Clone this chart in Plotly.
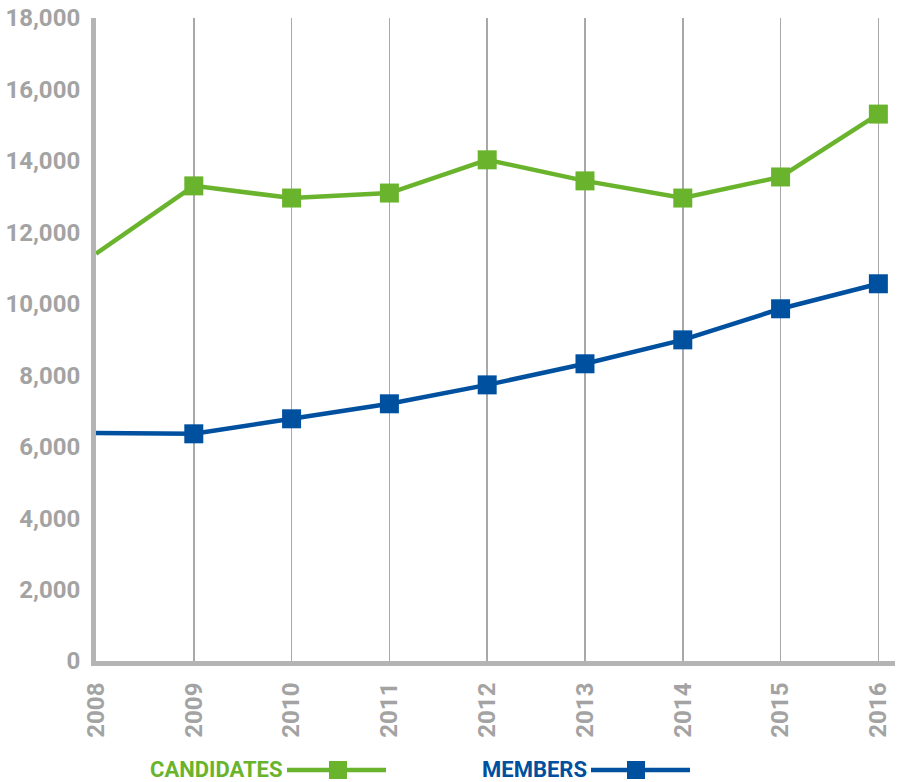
import plotly.graph_objects as go

years = [2008, 2009, 2010, 2011, 2012, 2013, 2014, 2015, 2016]
candidates = [11400, 13300, 12960, 13100, 14030, 13440, 12960, 13550, 15310]
members = [6380, 6360, 6780, 7200, 7730, 8320, 8990, 9860, 10560]
y_ticks = [0, 2000, 4000, 6000, 8000, 10000, 12000, 14000, 16000, 18000]
y_tick_labels = ["0", "2,000", "4,000", "6,000", "8,000", "10,000", "12,000", "14,000", "16,000", "18,000"]

GREEN = "#6ab42d"
BLUE = "#0050a0"
GRAY = "#a3a3a3"

msize = [0] + [19] * (len(years) - 1)

fig = go.Figure()
fig.add_trace(go.Scatter(x=years, y=candidates, mode="lines+markers", name="CANDIDATES",
                         line=dict(color=GREEN, width=4.5),
                         marker=dict(symbol="square", size=msize, color=GREEN, opacity=1,
                                     line=dict(width=0)),
                         cliponaxis=True, showlegend=False))
fig.add_trace(go.Scatter(x=years, y=members, mode="lines+markers", name="MEMBERS",
                         line=dict(color=BLUE, width=4.5),
                         marker=dict(symbol="square", size=msize, color=BLUE, opacity=1,
                                     line=dict(width=0)),
                         cliponaxis=True, showlegend=False))

tickfont = dict(family="Roboto, DejaVu Sans, sans-serif", size=24, color=GRAY, weight="bold")

fig.update_xaxes(range=[2008, 2016.17], tickvals=years, ticktext=[str(y) for y in years],
                 tickangle=-90, tickfont=tickfont, showgrid=True, gridcolor="#a8a8a8", gridwidth=1.5,
                 showline=True, linecolor="#b4b4b4", linewidth=5, zeroline=False, ticks="",
                 ticklabelstandoff=7, fixedrange=True, automargin=False)
fig.update_yaxes(range=[0, 18000], tickvals=y_ticks, ticktext=y_tick_labels, tickfont=tickfont,
                 showgrid=False, showline=True, linecolor="#b4b4b4", linewidth=5, zeroline=False,
                 ticks="", ticklabelstandoff=6, fixedrange=True, automargin=False)

L, R, T, B = 96, 895, 18, 661  # plot area in page pixels

def px_x(px):
    return (px - L) / (R - L)

def px_y(py):
    return (B - py) / (B - T)

# legend (text followed by key, as in the reference)
legfont = dict(family="Liberation Sans Narrow, Roboto, sans-serif", size=22, weight="bold")
fig.add_annotation(xref="paper", yref="paper", x=px_x(285), y=px_y(769),
                   xanchor="right", yanchor="middle", text="CANDIDATES", showarrow=False,
                   font=dict(color=GREEN, **legfont))
fig.add_annotation(xref="paper", yref="paper", x=px_x(589), y=px_y(769),
                   xanchor="right", yanchor="middle", text="MEMBERS", showarrow=False,
                   font=dict(color=BLUE, **legfont))

for x0, x1, mx, col in [(287, 386, 338, GREEN), (591, 690, 636, BLUE)]:
    fig.add_shape(type="line", xref="paper", yref="paper", x0=px_x(x0), x1=px_x(x1),
                  y0=px_y(770), y1=px_y(770), line=dict(color=col, width=4.5))
    fig.add_shape(type="rect", xref="paper", yref="paper", x0=px_x(mx - 9), x1=px_x(mx + 9),
                  y0=px_y(779), y1=px_y(761), line=dict(width=0), fillcolor=col)

W, H = 903, 782
fig.update_layout(width=W, height=H,
                  margin=dict(l=L, r=W - R, t=T, b=H - B, autoexpand=False),
                  plot_bgcolor="white", paper_bgcolor="white", showlegend=False)

fig.write_html("out.html", config={"displayModeBar": False, "staticPlot": True},
               post_script="document.body.style.margin='0';document.body.style.overflow='hidden';")
